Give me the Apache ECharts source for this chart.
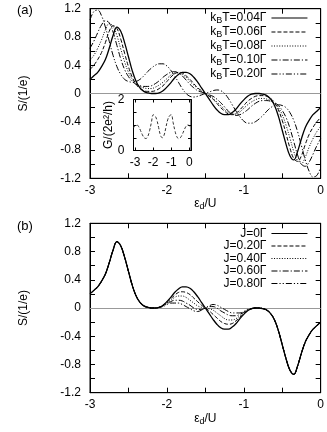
<!DOCTYPE html>
<html>
<head>
<meta charset="utf-8">
<script src="https://cdn.jsdelivr.net/npm/echarts@6/dist/echarts.min.js"></script>
<style>
  html, body { margin: 0; padding: 0; background: #fff; }
  #chart { width: 327px; height: 432px; }
</style>
</head>
<body>
<div id="chart"></div>
<script>
// energy grid eps_d/U, shared by every curve of both panels
const eps = [-3,-2.95,-2.9,-2.85,-2.8,-2.75,-2.7,-2.65,-2.6,-2.55,-2.5,-2.45,-2.4,-2.35,-2.3,-2.25,-2.2,-2.15,-2.1,-2.05,
  -2,-1.95,-1.9,-1.85,-1.8,-1.75,-1.7,-1.65,-1.6,-1.55,-1.5,-1.45,-1.4,-1.35,-1.3,-1.25,-1.2,-1.15,-1.1,-1.05,
  -1,-0.95,-0.9,-0.85,-0.8,-0.75,-0.7,-0.65,-0.6,-0.55,-0.5,-0.45,-0.4,-0.35,-0.3,-0.25,-0.2,-0.15,-0.1,-0.05,0];

// panel (a): thermopower for several temperatures
const sT004 = [0.20,0.25,0.30,0.38,0.48,0.64,0.82,0.94,0.88,0.72,0.52,0.32,0.17,0.08,0.03,0.01,0,0,0.01,0.04,
  0.09,0.15,0.22,0.27,0.30,0.30,0.28,0.23,0.16,0.08,0,-0.08,-0.16,-0.23,-0.28,-0.30,-0.30,-0.27,-0.22,-0.15,
  -0.09,-0.04,-0.01,0,0,-0.01,-0.03,-0.08,-0.17,-0.32,-0.52,-0.72,-0.88,-0.94,-0.82,-0.64,-0.48,-0.38,-0.30,-0.25,-0.20];
const sT006 = [0.34,0.40,0.48,0.58,0.72,0.88,0.96,0.92,0.77,0.57,0.38,0.23,0.13,0.07,0.04,0.03,0.03,0.04,0.07,0.11,
  0.17,0.23,0.28,0.30,0.29,0.25,0.20,0.14,0.08,0.04,0,-0.04,-0.08,-0.14,-0.20,-0.25,-0.29,-0.30,-0.28,-0.23,
  -0.17,-0.11,-0.07,-0.04,-0.03,-0.03,-0.04,-0.07,-0.13,-0.23,-0.38,-0.57,-0.77,-0.92,-0.96,-0.88,-0.72,-0.58,-0.48,-0.40,-0.34];
const sT008 = [0.47,0.54,0.64,0.76,0.90,0.99,0.95,0.82,0.63,0.45,0.30,0.20,0.14,0.10,0.08,0.07,0.07,0.09,0.12,0.16,
  0.21,0.26,0.29,0.29,0.27,0.23,0.17,0.12,0.07,0.03,0,-0.03,-0.07,-0.12,-0.17,-0.23,-0.27,-0.29,-0.29,-0.26,
  -0.21,-0.16,-0.12,-0.09,-0.07,-0.07,-0.08,-0.10,-0.14,-0.20,-0.30,-0.45,-0.63,-0.82,-0.95,-0.99,-0.90,-0.76,-0.64,-0.54,-0.47];
const sT010 = [0.64,0.74,0.86,0.97,1.03,1.00,0.87,0.68,0.49,0.34,0.24,0.17,0.13,0.11,0.10,0.10,0.11,0.14,0.18,0.23,
  0.27,0.30,0.31,0.29,0.25,0.19,0.13,0.08,0.04,0.02,0,-0.02,-0.04,-0.08,-0.13,-0.19,-0.25,-0.29,-0.31,-0.30,
  -0.27,-0.23,-0.18,-0.14,-0.11,-0.10,-0.10,-0.11,-0.13,-0.17,-0.24,-0.34,-0.49,-0.68,-0.87,-1.00,-1.03,-0.97,-0.86,-0.74,-0.64];
const sT020 = [1.04,1.16,1.18,1.10,0.94,0.74,0.54,0.38,0.27,0.20,0.17,0.16,0.17,0.20,0.25,0.31,0.36,0.40,0.42,0.42,
  0.39,0.33,0.25,0.16,0.07,0,-0.04,-0.05,-0.04,-0.02,0,0.02,0.04,0.05,0.04,0,-0.07,-0.16,-0.25,-0.33,
  -0.39,-0.42,-0.42,-0.40,-0.36,-0.31,-0.25,-0.20,-0.17,-0.16,-0.17,-0.20,-0.27,-0.38,-0.54,-0.74,-0.94,-1.10,-1.18,-1.16,-1.04];

// panel (b): thermopower for several exchange couplings J
const sJ000 = [0.20,0.25,0.30,0.38,0.48,0.64,0.82,0.94,0.88,0.72,0.52,0.32,0.17,0.08,0.03,0.01,0,0,0.01,0.04,
  0.09,0.15,0.22,0.27,0.30,0.30,0.28,0.23,0.16,0.08,0,-0.08,-0.16,-0.23,-0.28,-0.30,-0.30,-0.27,-0.22,-0.15,
  -0.09,-0.04,-0.01,0,0,-0.01,-0.03,-0.08,-0.17,-0.32,-0.52,-0.72,-0.88,-0.94,-0.82,-0.64,-0.48,-0.38,-0.30,-0.25,-0.20];
const sJ020 = [0.20,0.25,0.30,0.38,0.48,0.64,0.82,0.94,0.88,0.72,0.52,0.32,0.17,0.08,0.03,0.01,0,0,0.01,0.04,
  0.08,0.13,0.18,0.22,0.23,0.22,0.19,0.14,0.09,0.04,0,-0.04,-0.09,-0.14,-0.19,-0.22,-0.23,-0.22,-0.18,-0.13,
  -0.08,-0.04,-0.01,0,0,-0.01,-0.03,-0.08,-0.17,-0.32,-0.52,-0.72,-0.88,-0.94,-0.82,-0.64,-0.48,-0.38,-0.30,-0.25,-0.20];
const sJ040 = [0.20,0.25,0.30,0.38,0.48,0.64,0.82,0.94,0.88,0.72,0.52,0.32,0.17,0.08,0.03,0.01,0,0,0.01,0.03,
  0.07,0.11,0.15,0.17,0.17,0.15,0.11,0.07,0.03,0.01,0,-0.01,-0.03,-0.07,-0.11,-0.15,-0.17,-0.17,-0.15,-0.11,
  -0.07,-0.03,-0.01,0,0,-0.01,-0.03,-0.08,-0.17,-0.32,-0.52,-0.72,-0.88,-0.94,-0.82,-0.64,-0.48,-0.38,-0.30,-0.25,-0.20];
const sJ060 = [0.20,0.25,0.30,0.38,0.48,0.64,0.82,0.94,0.88,0.72,0.52,0.32,0.17,0.08,0.03,0.01,0,0,0.01,0.03,
  0.06,0.09,0.11,0.11,0.10,0.07,0.04,0,-0.02,-0.02,0,0.02,0.02,0,-0.04,-0.07,-0.10,-0.11,-0.11,-0.09,
  -0.06,-0.03,-0.01,0,0,-0.01,-0.03,-0.08,-0.17,-0.32,-0.52,-0.72,-0.88,-0.94,-0.82,-0.64,-0.48,-0.38,-0.30,-0.25,-0.20];
const sJ080 = [0.20,0.25,0.30,0.38,0.48,0.64,0.82,0.94,0.88,0.72,0.52,0.32,0.17,0.08,0.03,0.01,0,0,0.01,0.02,
  0.05,0.07,0.07,0.07,0.05,0.02,-0.01,-0.04,-0.05,-0.03,0,0.03,0.05,0.04,0.01,-0.02,-0.05,-0.07,-0.07,-0.07,
  -0.05,-0.02,-0.01,0,0,-0.01,-0.03,-0.08,-0.17,-0.32,-0.52,-0.72,-0.88,-0.94,-0.82,-0.64,-0.48,-0.38,-0.30,-0.25,-0.20];

// inset: conductance
const insetEps = [-3.1,-3,-2.9,-2.8,-2.7,-2.6,-2.5,-2.4,-2.3,-2.2,-2.1,-2,-1.9,-1.8,-1.7,-1.6,-1.5,
  -1.4,-1.3,-1.2,-1.1,-1,-0.9,-0.8,-0.7,-0.6,-0.5,-0.4,-0.3,-0.2,-0.1,0,0.1];
const insetG = [0.88,0.97,1.00,0.93,0.78,0.62,0.50,0.47,0.55,0.78,1.10,1.40,1.36,1.20,0.90,0.60,0.50,
  0.60,0.90,1.20,1.36,1.40,1.10,0.78,0.55,0.47,0.50,0.62,0.78,0.93,1.00,0.97,0.88];

const tempLabels = ['0.04', '0.06', '0.08', '0.10', '0.20'];
const jLabels = ['0', '0.20', '0.40', '0.60', '0.80'];
const xTicks = [-3, -2.5, -2, -1.5, -1, -0.5, 0];
const xLabels = [-3, -2, -1, 0];
const yTicks = [-1.2, -1, -0.8, -0.6, -0.4, -0.2, 0, 0.2, 0.4, 0.6, 0.8, 1, 1.2];
const yLabels = [-1.2, -0.8, -0.4, 0, 0.4, 0.8, 1.2];
const insetXLabels = [-3, -2, -1, 0];
const insetYLabels = [0, 2];
const insetYTicks = [0, 0.5, 1, 1.5, 2];

const FONT = '"Liberation Sans", Arial, sans-serif';
const dashes = ['solid', [4, 2], [1, 1.6], [6, 2, 1.2, 2], [6, 2, 1.2, 2, 1.2, 2]];
const subRich = { sub: { fontSize: 9, fontFamily: FONT, color: '#000', padding: [6, 0, 0, 0] } };

function pts(xs, ys) {
  return xs.map((x, i) => [x, ys[i]]);
}

function xAxisFor(g, pos, xmin, xmax, ticks, labels, tickLen, withName) {
  return {
    type: 'value', gridIndex: g, position: pos, min: xmin, max: xmax,
    axisLine: { show: true, onZero: false, lineStyle: { color: '#000', width: 1 } },
    axisTick: { show: true, inside: true, length: tickLen, customValues: ticks, lineStyle: { color: '#000' } },
    axisLabel: { show: pos === 'bottom', customValues: labels, margin: 6, color: '#000', fontSize: 12, fontFamily: FONT },
    splitLine: { show: false },
    name: withName ? 'ε{sub|d}/U' : '',
    nameLocation: 'middle', nameGap: 18,
    nameTextStyle: { color: '#000', fontSize: 12, fontFamily: FONT, rich: subRich }
  };
}

function yAxisFor(g, pos, ymin, ymax, ticks, labels, tickLen, name, gap) {
  return {
    type: 'value', gridIndex: g, position: pos, min: ymin, max: ymax,
    axisLine: { show: true, onZero: false, lineStyle: { color: '#000', width: 1 } },
    axisTick: { show: true, inside: true, length: tickLen, customValues: ticks, lineStyle: { color: '#000' } },
    axisLabel: { show: pos === 'left', customValues: labels, margin: 9, color: '#000', fontSize: 12, fontFamily: FONT },
    splitLine: { show: false },
    name: name, nameLocation: 'middle', nameGap: gap, nameMoveOverlap: false,
    nameTextStyle: { color: '#000', fontSize: 12, fontFamily: FONT }
  };
}

function curve(name, data, k, xi, yi) {
  return {
    name: name, type: 'line', xAxisIndex: xi, yAxisIndex: yi,
    data: pts(eps, data), smooth: 0.4, symbol: 'none', silent: true,
    lineStyle: { color: '#000', width: k === 0 ? 1.3 : 1, type: dashes[k] },
    itemStyle: { color: '#000' }, z: 10 - k
  };
}

function zeroLine() {
  return {
    silent: true, symbol: ['none', 'none'], label: { show: false },
    lineStyle: { color: '#999', type: 'solid', width: 1 },
    data: [{ yAxis: 0 }]
  };
}

const topSeries = [sT004, sT006, sT008, sT010, sT020].map((d, k) =>
  curve('kBT=' + tempLabels[k] + 'Γ', d, k, 0, 0));
topSeries[0].markLine = zeroLine();
const botSeries = [sJ000, sJ020, sJ040, sJ060, sJ080].map((d, k) =>
  curve('J=' + jLabels[k] + 'Γ', d, k, 4, 4));
botSeries[0].markLine = zeroLine();

const insetSeries = {
  name: 'G', type: 'line', xAxisIndex: 2, yAxisIndex: 2,
  data: pts(insetEps, insetG), smooth: 0.4, symbol: 'none', silent: true,
  lineStyle: { color: '#333', width: 1, type: [3, 2] }, z: 12
};

function legendFor(names, top) {
  return {
    data: names, orient: 'vertical', align: 'right', right: 19, top: top, padding: 0,
    itemWidth: 36, itemHeight: 8, itemGap: 0.5, selectedMode: false,
    itemStyle: { opacity: 0 },
    lineStyle: { width: 1.1 },
    formatter: n => n.replace('kBT', 'k{sub|B}T'),
    textStyle: { color: '#000', fontSize: 12, fontFamily: FONT, rich: subRich }
  };
}

const chart = echarts.init(document.getElementById('chart'), null, { renderer: 'canvas' });
chart.setOption({
  animation: false,
  backgroundColor: '#fff',
  grid: [
    { left: 90, top: 8.7, width: 232, height: 169.6, show: true, borderColor: '#000', borderWidth: 1 },
    { left: 133.5, top: 99.5, width: 57.5, height: 51, show: true, borderColor: '#000', borderWidth: 1 },
    { left: 90, top: 223.3, width: 232, height: 169.4, show: true, borderColor: '#000', borderWidth: 1 }
  ],
  xAxis: [
    xAxisFor(0, 'bottom', -3, 0, xTicks, xLabels, 5, true),
    xAxisFor(0, 'top', -3, 0, xTicks, xLabels, 5, false),
    xAxisFor(1, 'bottom', -3.09, 0.09, insetXLabels, insetXLabels, 3, false),
    xAxisFor(1, 'top', -3.09, 0.09, insetXLabels, insetXLabels, 3, false),
    xAxisFor(2, 'bottom', -3, 0, xTicks, xLabels, 5, true),
    xAxisFor(2, 'top', -3, 0, xTicks, xLabels, 5, false)
  ],
  yAxis: [
    yAxisFor(0, 'left', -1.2, 1.2, yTicks, yLabels, 5, 'S/(1/e)', 60),
    yAxisFor(0, 'right', -1.2, 1.2, yTicks, yLabels, 5, '', 0),
    yAxisFor(1, 'left', 0, 2, insetYTicks, insetYLabels, 3, 'G/(2e²/h)', 19),
    yAxisFor(1, 'right', 0, 2, insetYTicks, insetYLabels, 3, '', 0),
    yAxisFor(2, 'left', -1.2, 1.2, yTicks, yLabels, 5, 'S/(1/e)', 60),
    yAxisFor(2, 'right', -1.2, 1.2, yTicks, yLabels, 5, '', 0)
  ],
  legend: [
    legendFor(topSeries.map(s => s.name), 12),
    legendFor(botSeries.map(s => s.name), 227.5)
  ],
  graphic: [
    { type: 'text', left: 17, top: 4, style: { text: '(a)', fontSize: 13, fontFamily: FONT, fill: '#000' } },
    { type: 'text', left: 17, top: 220, style: { text: '(b)', fontSize: 13, fontFamily: FONT, fill: '#000' } }
  ],
  series: [...topSeries, insetSeries, ...botSeries]
});
</script>
</body>
</html>
